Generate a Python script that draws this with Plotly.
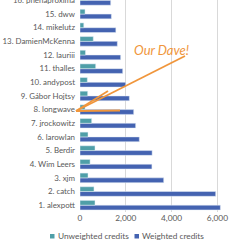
import plotly.graph_objects as go

names = ["1. alexpott", "2. catch", "3. xjm", "4. Wim Leers", "5. Berdir", "6. larowlan",
         "7. jrockowitz", "8. longwave", "9. Gábor Hojtsy", "10. andypost", "11. thalles",
         "12. lauriii", "13. DamienMcKenna", "14. mikelutz", "15. dww", "16. phenaproxima"]
weighted = [6130, 5925, 3655, 3140, 3150, 2590, 2430, 2345, 2155, 1995, 1865, 1775, 1630, 1565, 1370, 1340]
unweighted = [655, 610, 350, 440, 655, 350, 510, 220, 335, 320, 685, 240, 580, 165, 220, 300]
x_ticks = [0, 2000, 4000, 6000]
series_names = ["Unweighted credits", "Weighted credits"]

TEAL = "#4f9fa8"
BLUE = "#4463b1"
ORANGE = "#f0963c"
GRAY = "#595959"
FONT = "Lato"

fig = go.Figure()
fig.add_trace(go.Bar(y=names, x=weighted, orientation="h", name=series_names[1],
                     marker_color=BLUE))
fig.add_trace(go.Bar(y=names, x=unweighted, orientation="h", name=series_names[0],
                     marker_color=TEAL))

fig.update_layout(
    width=246, height=246,
    margin=dict(l=80, r=10, t=0, b=34, autoexpand=False),
    barmode="group", bargap=0.3, bargroupgap=0,
    plot_bgcolor="white", paper_bgcolor="white",
    font=dict(family=FONT, size=8.2, color=GRAY),
    showlegend=False,
)
fig.update_xaxes(range=[0, 6812], tickvals=x_ticks, tickformat=",d", showgrid=True,
                 gridcolor="#d9d9d9", gridwidth=1, zeroline=False, showline=False,
                 tickfont=dict(size=8.3, color=GRAY))
fig.update_yaxes(categoryorder="array", categoryarray=names, range=[-0.5, 15.03],
                 showgrid=False, zeroline=False, showline=False, ticks="",
                 ticklabelstandoff=4, tickfont=dict(size=7.9, color=GRAY))

# plot area pixel -> paper helpers for legend and the hand-drawn callout
PL, PW, PH = 80, 156, 212
def px(x):
    return (x - PL) / PW
def py(y):
    return 1 - y / PH

# manual legend (small squares like the reference)
for (sx, col, label) in [(50, TEAL, series_names[0]), (134.5, BLUE, series_names[1])]:
    fig.add_shape(type="rect", xref="paper", yref="paper",
                  x0=px(sx), x1=px(sx + 4.5), y0=py(238.5), y1=py(234),
                  fillcolor=col, line_width=0)
    fig.add_annotation(text=label, xref="paper", yref="paper", x=px(sx + 5.5), y=py(236.5),
                       xanchor="left", yanchor="middle", showarrow=False,
                       font=dict(family=FONT, size=8.3, color=GRAY))

fig.add_annotation(text="<i>Our Dave!</i>", xref="paper", yref="paper",
                   x=px(191), y=py(40), showarrow=False,
                   font=dict(family="Lato", size=13, color=ORANGE))
tip = (76, 111)
for end in [(185, 56), (108, 91), (120, 110.5)]:
    fig.add_shape(type="line", xref="paper", yref="paper",
                  x0=px(tip[0]), y0=py(tip[1]), x1=px(end[0]), y1=py(end[1]),
                  line=dict(color=ORANGE, width=1.8))

fig.write_html("out.html")
